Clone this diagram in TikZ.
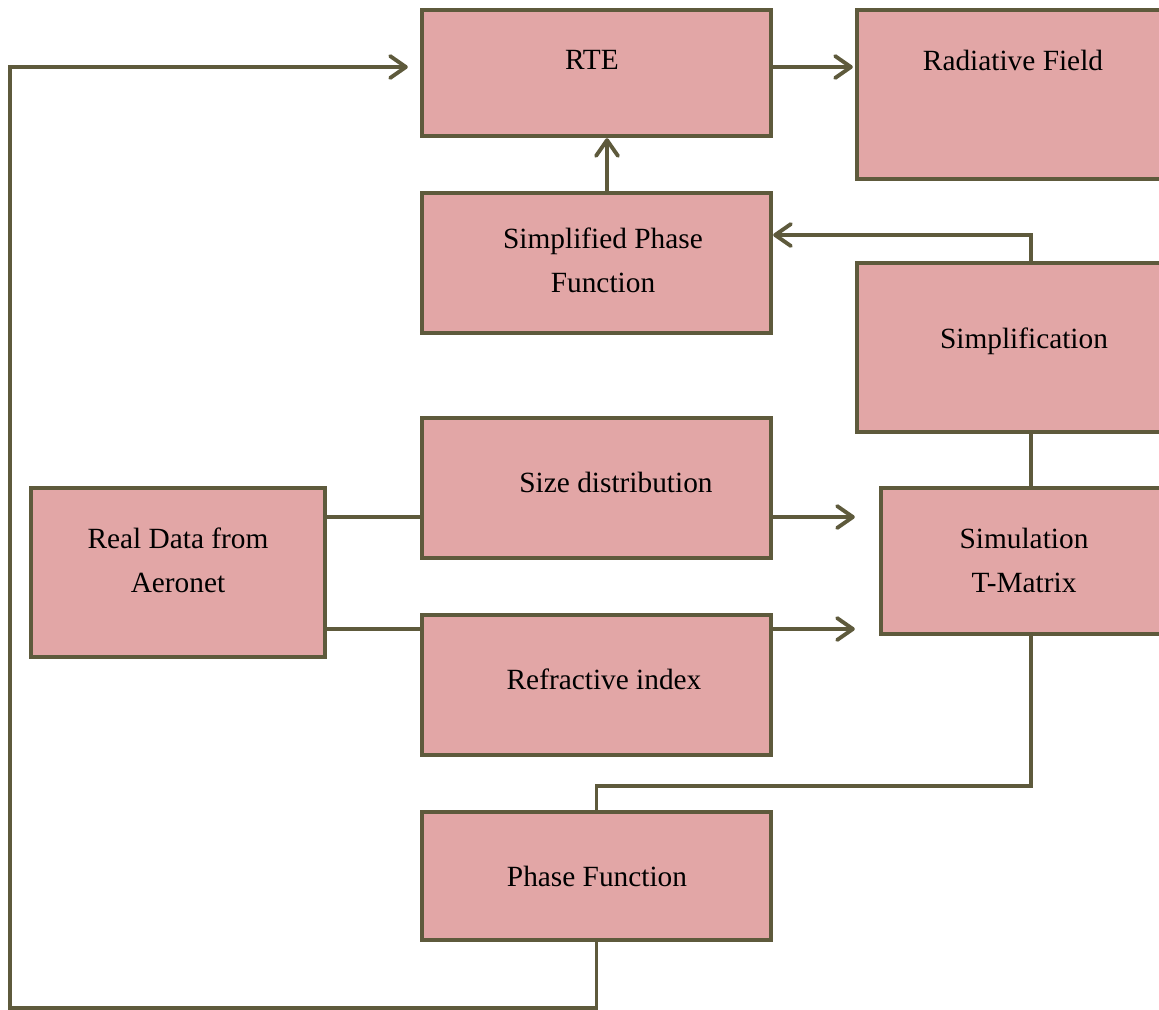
\documentclass[tikz,border=0pt]{standalone}
\usepackage{fontspec}
\setmainfont{Liberation Serif}
\usepackage{tikz}
\usetikzlibrary{arrows.meta,calc}

\definecolor{boxfill}{HTML}{E2A6A6}
\definecolor{boxline}{HTML}{5E5A3C}

\tikzset{
  box/.style={draw=boxline, fill=boxfill, line width=2.5pt, inner sep=0pt},
  txt/.style={font=\fontsize{16.7}{25}\selectfont, align=center, inner sep=0pt},
  wire/.style={draw=boxline, line width=2.2pt},
  arr/.style={wire, -{Straight Barb[length=9pt, width=12.5pt, line cap=round, line join=round]}}
}

\begin{document}
\begin{tikzpicture}[x=0.02cm, y=-0.02cm]
        \useasboundingbox (0,0) rectangle (1159,1009);
        \clip (0,0) rectangle (1159,1009);
        \node [box, minimum width=6.98cm, minimum height=2.52cm] (rte)      at (596.5,73)   {};  %RTE
        \node [txt] (rte-t)      at (592,60)     {RTE};                                          %
        \node [box, minimum width=6.24cm, minimum height=3.38cm] (radfield) at (1013,94.5)  {};  %field
        \node [txt] (radfield-t) at (1013,60)    {Radiative Field};                              %
        \node [box, minimum width=6.98cm, minimum height=2.80cm] (simphase) at (596.5,263)  {};  %simplified
        \node [txt] (simphase-t) at (603,260)    {Simplified Phase\\Function};                   %
        \node [box, minimum width=6.68cm, minimum height=3.38cm] (simplif)  at (1024,347.5) {};  %simplification
        \node [txt] (simplif-t)  at (1024,341)   {Simplification};                               %
        \node [box, minimum width=6.98cm, minimum height=2.80cm] (sizedist) at (596.5,488)  {};  %size
        \node [txt] (sizedist-t) at (616,482)    {Size distribution};                            %
        \node [box, minimum width=5.88cm, minimum height=3.38cm] (realdata) at (178,572.5)  {};  %aeronet
        \node [txt] (realdata-t) at (178,560)    {Real Data from\\Aeronet};                      %
        \node [box, minimum width=5.72cm, minimum height=2.92cm] (tmatrix)  at (1024,561)   {};  %T-Matrix
        \node [txt] (tmatrix-t)  at (1024,560)   {Simulation\\T-Matrix};                         %
        \node [box, minimum width=6.98cm, minimum height=2.80cm] (refindex) at (596.5,685)  {};  %refractive
        \node [txt] (refindex-t) at (604,679)    {Refractive index};                             %
        \node [box, minimum width=6.98cm, minimum height=2.56cm] (phasefn)  at (596.5,876)  {};  %phase
        \node [txt] (phasefn-t)  at (597,876)    {Phase Function};                               %

        \coordinate (loop) at (10,1008);                                                         %
        \draw [arr]  (phasefn.south) |- (loop) |- ($(rte.west)+(-12,-6)$);                      %feedback
        \draw [arr]  ($(rte.east)+(0,-6)$) -- ($(radfield.west)+(-2,-27.5)$);                    %
        \draw [arr]  ($(simphase.north)+(10.5,0)$) -- ($(rte.south)+(10.5,0)$);                  %
        \draw [arr]  ($(simplif.north)+(7,0)$) |- ($(simphase.east)+(0,-28)$);                   %
        \draw [wire] ($(tmatrix.north)+(7,0)$) -- ($(simplif.south)+(7,0)$);                     %
        \draw [wire] ($(realdata.east)+(0,-55.5)$) -- ($(sizedist.west)+(0,29)$);                %
        \draw [wire] ($(realdata.east)+(0,56.5)$) -- ($(refindex.west)+(0,-56)$);                %
        \draw [arr]  ($(sizedist.east)+(0,29)$) -- ($(tmatrix.west)+(-24,-44)$);                 %
        \draw [arr]  ($(refindex.east)+(0,-56)$) -- ($(tmatrix.west)+(-24,68)$);                 %
        \draw [wire] ($(tmatrix.south)+(7,0)$) -- ++(0,150) -| (phasefn.north);                  %
      \end{tikzpicture}
\end{document}
